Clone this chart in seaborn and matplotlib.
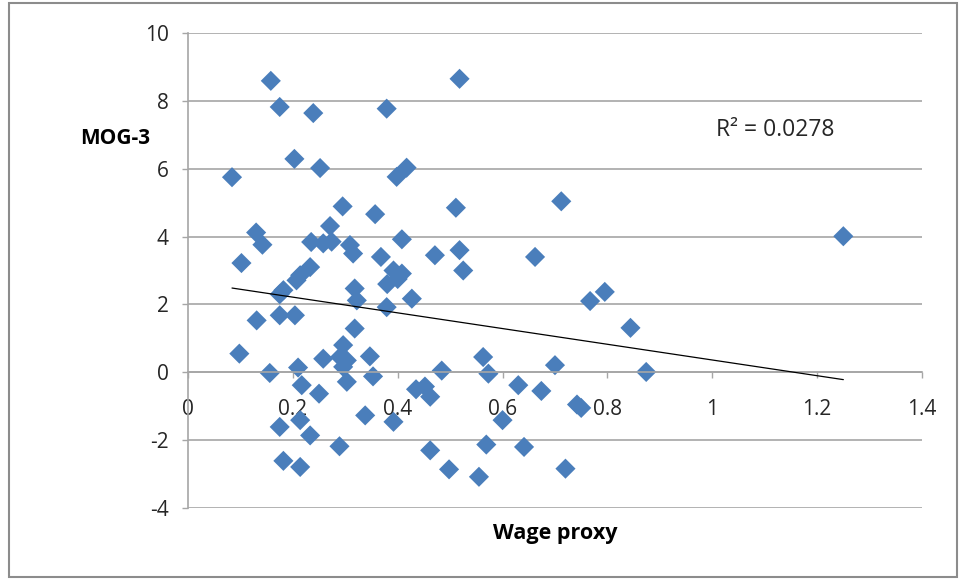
import numpy as np
import pandas as pd
import seaborn as sns
import matplotlib.pyplot as plt
from matplotlib.patches import Rectangle

# Values
wage_proxy = [0.084, 0.158, 0.175, 0.239, 0.379, 0.203, 0.252, 0.398, 0.417, 0.295,
              0.357, 0.130, 0.142, 0.271, 0.235, 0.258, 0.274, 0.309, 0.315, 0.408,
              0.368, 0.471, 0.102, 0.233, 0.214, 0.207, 0.182, 0.175, 0.318, 0.322,
              0.392, 0.408, 0.380, 0.400, 0.427, 0.379, 0.131, 0.175, 0.204, 0.318,
              0.098, 0.156, 0.210, 0.258, 0.296, 0.290, 0.303, 0.296, 0.347, 0.353,
              0.303, 0.217, 0.250, 0.338, 0.392, 0.175, 0.214, 0.233, 0.289, 0.182,
              0.214, 0.462, 0.435, 0.452, 0.462, 0.518, 0.511, 0.712, 0.518, 0.662,
              0.525, 0.767, 0.795, 0.844, 0.874, 0.563, 0.573, 0.484, 0.700, 0.630,
              0.674, 0.742, 0.750, 0.600, 0.569, 0.641, 0.498, 0.555, 0.720, 1.250]
mog3 = [5.75, 8.59, 7.82, 7.64, 7.77, 6.29, 6.02, 5.76, 6.03, 4.89,
        4.66, 4.12, 3.76, 4.31, 3.84, 3.80, 3.85, 3.75, 3.50, 3.92,
        3.40, 3.45, 3.22, 3.10, 2.86, 2.71, 2.42, 2.30, 2.47, 2.12,
        3.00, 2.91, 2.60, 2.75, 2.17, 1.92, 1.53, 1.68, 1.68, 1.29,
        0.55, -0.02, 0.14, 0.40, 0.80, 0.45, 0.35, 0.16, 0.47, -0.12,
        -0.28, -0.38, -0.63, -1.27, -1.46, -1.61, -1.41, -1.86, -2.18, -2.61,
        -2.79, -2.30, -0.50, -0.42, -0.72, 8.65, 4.85, 5.04, 3.60, 3.40,
        3.00, 2.10, 2.37, 1.31, 0.01, 0.45, -0.04, 0.05, 0.21, -0.38,
        -0.55, -0.95, -1.05, -1.41, -2.13, -2.20, -2.86, -3.08, -2.84, 4.01]
r2_label = "R\u00b2 = 0.0278"
x_ticks = [0, 0.2, 0.4, 0.6, 0.8, 1, 1.2, 1.4]
x_ticklabels = ['0', '0.2', '0.4', '0.6', '0.8', '1', '1.2', '1.4']
y_ticks = [-4, -2, 0, 2, 4, 6, 8, 10]

df = pd.DataFrame({"wage": wage_proxy, "mog": mog3})

sns.set_style("white")
plt.rcParams['font.family'] = ['Open Sans', 'DejaVu Sans']
plt.rcParams['axes.unicode_minus'] = False

fig = plt.figure(figsize=(9.6, 5.79), dpi=100)
ax = fig.add_axes([0.1958, 0.1226, 0.7646, 0.8204])

grey = '#a6a6a6'
txt = '#262626'
for yt in y_ticks:
    ax.axhline(yt, color=grey, lw=1.2, zorder=0)

sns.regplot(data=df, x="wage", y="mog", scatter=False, ci=None, ax=ax,
            line_kws=dict(color='black', lw=0.9, zorder=3))
sns.scatterplot(data=df, x="wage", y="mog", marker='D', s=105, color='#4a7ebb',
                edgecolor='none', ax=ax, zorder=2)

ax.set_xlim(0, 1.4)
ax.set_ylim(-4, 10)
ax.set_xticks(x_ticks)
ax.set_xticklabels(x_ticklabels)
ax.set_yticks(y_ticks)
ax.set_xlabel('')
ax.set_ylabel('')

ax.spines['top'].set_visible(False)
ax.spines['right'].set_visible(False)
ax.spines['bottom'].set_position(('data', 0))
for s in ['left', 'bottom']:
    ax.spines[s].set_color(grey)
    ax.spines[s].set_linewidth(1.2)
ax.tick_params(axis='both', which='both', direction='out', length=4, width=1,
               color=grey, labelsize=15, labelcolor=txt, left=True, bottom=True)
ax.tick_params(axis='x', pad=15)
ax.tick_params(axis='y', pad=10)

ax.text(1.007, 7.13, r2_label, fontsize=16.5, color=txt, va='center', ha='left')

fig.text(0.1198, 0.761, 'MOG-3', fontsize=15, fontweight='bold', color='black',
         ha='center', va='center')
fig.text(0.578, 0.079, 'Wage proxy', fontsize=15.5, fontweight='bold', color='black',
         ha='center', va='center')

fig.patches.append(Rectangle((0.009, 0.004), 0.988, 0.99, transform=fig.transFigure,
                             fill=False, edgecolor='#8c8c8c', lw=1.5))

fig.savefig('out.png', dpi=100)
